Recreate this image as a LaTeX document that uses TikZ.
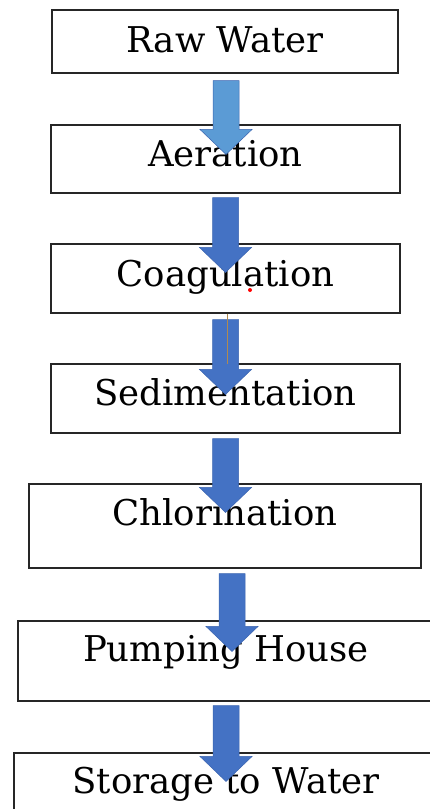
\documentclass[tikz,border=0pt]{standalone}
\usepackage{fontspec}
\setmainfont{DejaVu Serif}
\usetikzlibrary{calc}
\definecolor{arrowlight}{HTML}{5B9BD5}
\definecolor{arrowblue}{HTML}{4472C4}
\definecolor{arrowedge}{HTML}{3A64B0}
\definecolor{boxline}{HTML}{262626}
\definecolor{markline}{HTML}{B08A50}
\newcommand{\blockarrow}[3]{%
\draw[arrowbody, fill=#1] let \p1=#2, \p2=#3 in
  (\x1-13pt,\y1) -- (\x1+13pt,\y1) -- (\x1+13pt,\y2+25pt) -- (\x1+26pt,\y2+25pt)
  -- (\x1,\y2) -- (\x1-26pt,\y2+25pt) -- (\x1-13pt,\y2+25pt) -- cycle;}
\begin{document}
\begin{tikzpicture}[x=1pt, y=-1pt,
  stagebox/.style={draw=boxline, line width=1.1pt, fill=white, inner sep=0pt, anchor=base,
    font=\fontsize{35.5pt}{40pt}\selectfont},
  arrowbody/.style={draw=arrowedge, line width=0.5pt}]
\useasboundingbox (0,0) rectangle (430,809);

\node[stagebox, minimum width=346pt, text height=42pt, text depth=21pt] (raw) at (225,52) {Raw Water};
\node[stagebox, minimum width=349pt, text height=41pt, text depth=27pt] (aer) at (225.5,166) {Aeration};
\node[stagebox, minimum width=349pt, text height=42pt, text depth=27pt] (coa) at (225.5,286) {Coagulation};
\node[stagebox, minimum width=349pt, text height=41pt, text depth=28pt] (sed) at (225.5,405) {Sedimentation};
\node[stagebox, minimum width=392pt, text height=41pt, text depth=43pt] (chl) at (225,525) {Chlorination};
\node[stagebox, minimum width=416pt, text height=40pt, text depth=40pt] (pum) at (226,661) {Pumping House};
\node[stagebox, minimum width=424pt, text height=40pt, text depth=40pt] (sto) at (226,793) {Storage to Water};

\blockarrow{arrowlight}{([xshift=1pt,yshift=-7pt]raw.south)}{([yshift=-30pt]aer.north)}
\blockarrow{arrowblue}{([yshift=-4pt]aer.south)}{([yshift=-29pt]coa.north)}
\blockarrow{arrowblue}{([yshift=-6pt]coa.south)}{([yshift=-31pt]sed.north)}
\blockarrow{arrowblue}{([yshift=-5pt]sed.south)}{([yshift=-29pt]chl.north)}
\blockarrow{arrowblue}{([xshift=7pt,yshift=-5pt]chl.south)}{([yshift=-31pt]pum.north)}
\blockarrow{arrowblue}{([yshift=-4pt]pum.south)}{([yshift=-29pt]sto.north)}

\coordinate (mark) at ([xshift=1.5pt,yshift=-50pt]coa.south);
\draw[markline, line width=0.8pt] ([xshift=1.5pt]coa.south) -- (mark);
\fill[red] (250,290) circle (2pt);
\end{tikzpicture}
\end{document}
